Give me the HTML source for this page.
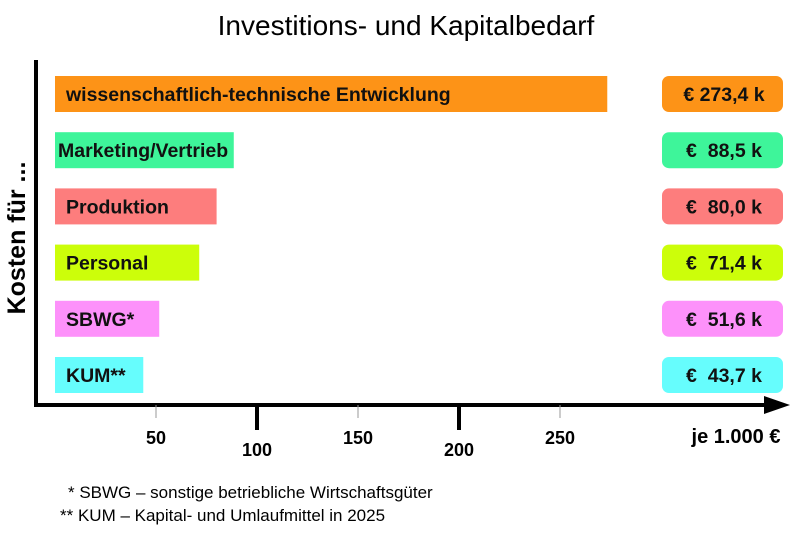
<!DOCTYPE html>
<html><head><meta charset="utf-8"><style>
body{margin:0;background:#fff;width:797px;height:532px;overflow:hidden;font-family:"Liberation Sans",sans-serif}
svg text{font-family:"Liberation Sans",sans-serif;white-space:pre}
</style></head><body>
<svg id="chart" width="797" height="532">
<text x="406" y="35" text-anchor="middle" font-size="28">Investitions- und Kapitalbedarf</text>
<text transform="translate(25,238) rotate(-90)" text-anchor="middle" font-size="25" font-weight="bold">Kosten für ...</text>
<line x1="36" y1="60" x2="36" y2="406" stroke="#000" stroke-width="4"/>
<line x1="34" y1="405" x2="768" y2="405" stroke="#000" stroke-width="4"/>
<polygon points="764,396 790,405 764,414" fill="#000"/>
<text x="736" y="443" text-anchor="middle" font-size="20" font-weight="bold">je 1.000 €</text>
<g id="bars"></g><g id="ticks"></g>
<text x="68" y="498" font-size="17">* SBWG – sonstige betriebliche Wirtschaftsgüter</text>
<text x="60" y="521" font-size="17">** KUM – Kapital- und Umlaufmittel in 2025</text>
</svg>
<script>
const categories=["wissenschaftlich-technische Entwicklung","Marketing/Vertrieb","Produktion","Personal","SBWG*","KUM**"];
const values=[273.4,88.5,80.0,71.4,51.6,43.7];
const valueLabels=["€ 273,4 k","€  88,5 k","€  80,0 k","€  71,4 k","€  51,6 k","€  43,7 k"];
const colors=["#fd9317","#3ef59a","#fd7d7d","#ccfe0a","#fd91fa","#66fdfd"];
const ticks=[50,100,150,200,250];
const NS="http://www.w3.org/2000/svg";
const x=v=>55+v*2.02;
const y=i=>76+i*56.2;
const bars=document.getElementById('bars'),tg=document.getElementById('ticks');
function mk(tag,at,p){const e=document.createElementNS(NS,tag);for(const k in at)e.setAttribute(k,at[k]);p.appendChild(e);return e;}
categories.forEach((c,i)=>{
 const r=mk('rect',{x:x(0),y:y(i),width:x(values[i])-x(0),height:36,fill:colors[i]},bars);
 
 
 const t=mk('text',{x:i==1?58:66,y:y(i)+25,'font-size':19.5,'font-weight':'bold',fill:'#111'},bars);t.textContent=c;
 
 
 const b=mk('rect',{x:662,y:y(i),width:121,height:36,rx:7,fill:colors[i]},bars);
 
 
 const vt=mk('text',{x:724,y:y(i)+25,'text-anchor':'middle','font-size':19.5,'font-weight':'bold',fill:'#111'},bars);vt.textContent=valueLabels[i];
 
 
});
ticks.forEach((v,i)=>{
 const major=v%100===0;
 const l=mk('line',{x1:x(v),x2:x(v),y1:405,y2:major?430:418,stroke:major?'#000':'#999','stroke-width':major?4:1},tg);
 
 
 const t=mk('text',{x:x(v),y:major?456:444,'text-anchor':'middle','font-size':18,'font-weight':'bold'},tg);t.textContent=v;
 
 
});
</script>
</body></html>
